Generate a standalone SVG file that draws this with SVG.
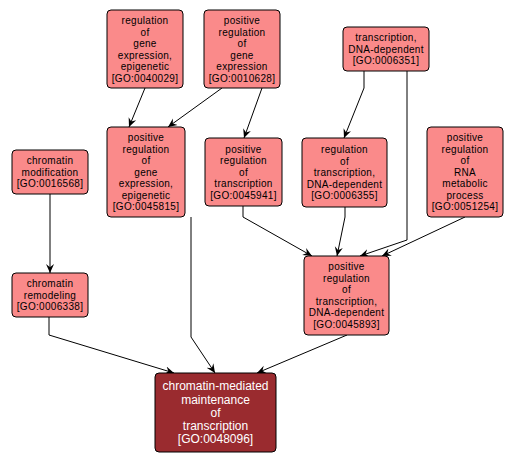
<svg xmlns="http://www.w3.org/2000/svg" width="515" height="463" viewBox="0 0 515 463">
<style>
.n rect{fill:#FA8A8A;stroke:#000;stroke-width:1}
.n text{font-family:"Liberation Sans",Arial,sans-serif;font-size:10px;letter-spacing:0.3px;fill:#000;text-anchor:middle}
.d rect{fill:#9A2B2F;stroke:#000;stroke-width:1}
.d text{font-family:"Liberation Sans",Arial,sans-serif;font-size:12px;fill:#fff;text-anchor:middle}
.e path{fill:none;stroke:#000;stroke-width:1;marker-end:url(#ah)}
</style>
<defs>
<marker id="ah" viewBox="0 0 10 10" refX="10" refY="5" markerWidth="9" markerHeight="9" markerUnits="userSpaceOnUse" orient="auto">
<path d="M0,0.5 L10,5 L0,9.5 L3.5,5 z" fill="#000"/>
</marker>
</defs>
<rect width="515" height="463" fill="#fff"/>
<g id="edges" class="e">
<path d="M145,88 L129,127"/>
<path d="M222,88 L168,127"/>
<path d="M262,88 L244,138"/>
<path d="M364,71 L364,88 L344,138"/>
<path d="M407,71 L407,240 L360,256"/>
<path d="M465,217 L382,256"/>
<path d="M345,207 L345,217 L337,256"/>
<path d="M243,206 L243,217 L312,256"/>
<path d="M50,194 L50,273"/>
<path d="M49,317 L49,335 L174,373"/>
<path d="M191,217 L191,337 L215,373"/>
<path d="M347,335 L257,373"/>
</g>
<g id="GO0040029" class="n">
<rect x="107" y="10" width="76" height="78" rx="4"/>
<text x="145" y="24.2">regulation</text>
<text x="145" y="35.7">of</text>
<text x="145" y="47.2">gene</text>
<text x="145" y="58.7">expression,</text>
<text x="145" y="70.2">epigenetic</text>
<text x="145" y="81.7">[GO:0040029]</text>
</g>
<g id="GO0010628" class="n">
<rect x="204" y="10" width="76" height="78" rx="4"/>
<text x="242" y="24.2">positive</text>
<text x="242" y="35.7">regulation</text>
<text x="242" y="47.2">of</text>
<text x="242" y="58.7">gene</text>
<text x="242" y="70.2">expression</text>
<text x="242" y="81.7">[GO:0010628]</text>
</g>
<g id="GO0006351" class="n">
<rect x="343" y="27" width="86" height="44" rx="4"/>
<text x="386" y="41">transcription,</text>
<text x="386" y="52.5">DNA-dependent</text>
<text x="386" y="64">[GO:0006351]</text>
</g>
<g id="GO0045815" class="n">
<rect x="107" y="127" width="78" height="90" rx="4"/>
<text x="146" y="141">positive</text>
<text x="146" y="152.5">regulation</text>
<text x="146" y="164">of</text>
<text x="146" y="175.5">gene</text>
<text x="146" y="187">expression,</text>
<text x="146" y="198.5">epigenetic</text>
<text x="146" y="210">[GO:0045815]</text>
</g>
<g id="GO0045941" class="n">
<rect x="205" y="138" width="77" height="68" rx="4"/>
<text x="243.5" y="152.5">positive</text>
<text x="243.5" y="164">regulation</text>
<text x="243.5" y="175.5">of</text>
<text x="243.5" y="187">transcription</text>
<text x="243.5" y="198.5">[GO:0045941]</text>
</g>
<g id="GO0006355" class="n">
<rect x="302" y="138" width="85" height="69" rx="4"/>
<text x="344.5" y="153">regulation</text>
<text x="344.5" y="164.5">of</text>
<text x="344.5" y="176">transcription,</text>
<text x="344.5" y="187.5">DNA-dependent</text>
<text x="344.5" y="199">[GO:0006355]</text>
</g>
<g id="GO0051254" class="n">
<rect x="427" y="127" width="76" height="90" rx="4"/>
<text x="465" y="141">positive</text>
<text x="465" y="152.5">regulation</text>
<text x="465" y="164">of</text>
<text x="465" y="175.5">RNA</text>
<text x="465" y="187">metabolic</text>
<text x="465" y="198.5">process</text>
<text x="465" y="210">[GO:0051254]</text>
</g>
<g id="GO0016568" class="n">
<rect x="12" y="150" width="76" height="44" rx="4"/>
<text x="50" y="164">chromatin</text>
<text x="50" y="175.5">modification</text>
<text x="50" y="187">[GO:0016568]</text>
</g>
<g id="GO0006338" class="n">
<rect x="12" y="273" width="76" height="44" rx="4"/>
<text x="50" y="287">chromatin</text>
<text x="50" y="298.5">remodeling</text>
<text x="50" y="310">[GO:0006338]</text>
</g>
<g id="GO0045893" class="n">
<rect x="304" y="256" width="85" height="79" rx="4"/>
<text x="346.5" y="270.3">positive</text>
<text x="346.5" y="281.8">regulation</text>
<text x="346.5" y="293.3">of</text>
<text x="346.5" y="304.8">transcription,</text>
<text x="346.5" y="316.3">DNA-dependent</text>
<text x="346.5" y="327.8">[GO:0045893]</text>
</g>
<g id="GO0048096" class="d">
<rect x="155" y="373" width="121" height="79" rx="4"/>
<text x="215.5" y="390.2">chromatin-mediated</text>
<text x="215.5" y="403.5">maintenance</text>
<text x="215.5" y="416.8">of</text>
<text x="215.5" y="430.1">transcription</text>
<text x="215.5" y="443.4">[GO:0048096]</text>
</g>
</svg>
